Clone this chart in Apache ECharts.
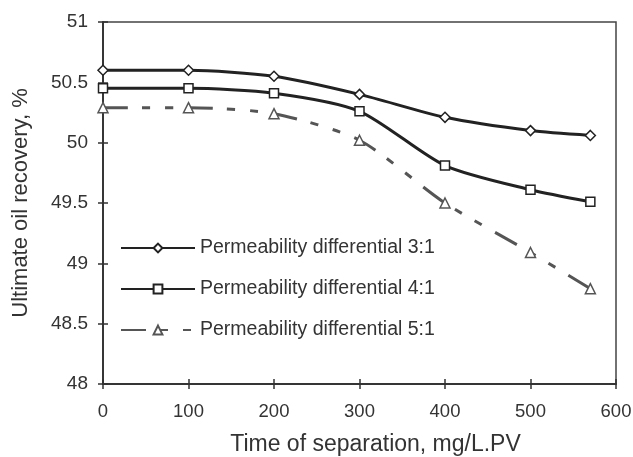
<!DOCTYPE html>
<html>
<head>
<meta charset="utf-8">
<script src="https://cdn.jsdelivr.net/npm/echarts@6/dist/echarts.min.js"></script>
<style>
  html, body { margin: 0; padding: 0; background: #fff; }
  #chart { width: 633px; height: 457px; }
</style>
</head>
<body>
<div id="chart"></div>
<script>
const xValues = [0, 100, 200, 300, 400, 500, 570];
const ratio3 = [50.6, 50.6, 50.55, 50.4, 50.21, 50.1, 50.06];
const ratio4 = [50.45, 50.45, 50.41, 50.26, 49.81, 49.61, 49.51];
const ratio5 = [50.29, 50.29, 50.24, 50.02, 49.5, 49.09, 48.79];
const names = [
  'Permeability differential 3:1',
  'Permeability differential 4:1',
  'Permeability differential 5:1'
];

const chart = echarts.init(document.getElementById('chart'));
const font = 'Liberation Sans, Arial, sans-serif';
const pairs = ys => xValues.map((x, i) => [x, ys[i]]);

const axisCommon = {
  type: 'value',
  axisLine: { show: true, lineStyle: { color: '#333', width: 1.5 } },
  splitLine: { show: false }
};

function makeSeries(name, ys, symbol, size, color, type) {
  return {
    name: name,
    type: 'line',
    data: pairs(ys),
    smooth: 0.25,
    symbol: symbol,
    symbolSize: size,
    itemStyle: { color: '#fff', borderColor: color, borderWidth: 1.5 },
    lineStyle: { color: color, width: 3, type: type },
    emphasis: { disabled: true }
  };
}

chart.setOption({
  animation: false,
  grid: {
    left: 103, right: 17, top: 22, bottom: 73,
    outerBoundsMode: 'none',
    show: true, borderColor: '#444', borderWidth: 1.5
  },
  legend: {
    left: 115, top: 233,
    orient: 'vertical',
    itemWidth: 74, itemHeight: 11, itemGap: 21,
    textStyle: { fontFamily: font, fontSize: 19.5, color: '#333' },
    data: names
  },
  xAxis: [
    Object.assign({}, axisCommon, {
      min: 0, max: 600, interval: 100,
      name: 'Time of separation, mg/L.PV',
      nameLocation: 'middle', nameGap: 49,
      nameTextStyle: { fontFamily: font, fontSize: 23, color: '#333', padding: [0, 0, 0, 32] },
      axisTick: { show: true, length: 5, lineStyle: { color: '#333', width: 1.5 } },
      axisLabel: { fontFamily: font, fontSize: 18.5, color: '#333', margin: 18 }
    }),
    Object.assign({}, axisCommon, {
      min: 0, max: 600, interval: 100, position: 'bottom',
      axisTick: { show: true, inside: true, length: 5, lineStyle: { color: '#333', width: 1.5 } },
      axisLabel: { show: false }
    })
  ],
  yAxis: [
    Object.assign({}, axisCommon, {
      min: 48, max: 51, interval: 0.5,
      name: 'Ultimate oil recovery, %',
      nameLocation: 'middle', nameGap: 71,
      nameTextStyle: { fontFamily: font, fontSize: 22, color: '#333' },
      axisTick: { show: true, length: 5, lineStyle: { color: '#333', width: 1.5 } },
      axisLabel: { fontFamily: font, fontSize: 19, color: '#333', margin: 15 }
    }),
    Object.assign({}, axisCommon, {
      min: 48, max: 51, interval: 0.5, position: 'left',
      axisTick: { show: true, inside: true, length: 5, lineStyle: { color: '#333', width: 1.5 } },
      axisLabel: { show: false }
    })
  ],
  series: [
    makeSeries(names[0], ratio3, 'diamond', 10, '#222', 'solid'),
    makeSeries(names[1], ratio4, 'rect', 9, '#222', 'solid'),
    makeSeries(names[2], ratio5, 'triangle', 10, '#555', [25, 14, 8, 15, 8, 15])
  ]
});
</script>
</body>
</html>
